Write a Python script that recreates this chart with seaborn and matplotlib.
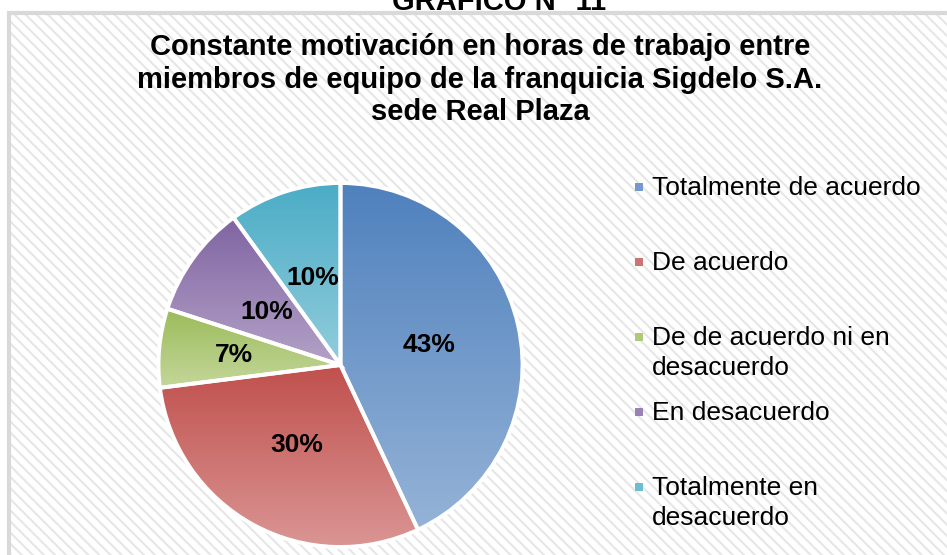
import numpy as np
import matplotlib
matplotlib.use("Agg")
import matplotlib.pyplot as plt
from matplotlib.patches import Rectangle
from matplotlib.colors import LinearSegmentedColormap
import seaborn as sns

# datos del grafico
categorias = ['Totalmente de acuerdo', 'De acuerdo', 'De de acuerdo ni en\ndesacuerdo',
              'En desacuerdo', 'Totalmente en\ndesacuerdo']
porcentajes = [43, 30, 7, 10, 10]
etiquetas = ['43%', '30%', '7%', '10%', '10%']

# colores (arriba -> abajo) del degradado de cada sector
color_arriba = ['#4F81BD', '#C0504D', '#9BBB59', '#8064A2', '#4BACC6']
color_abajo = ['#95B3D7', '#DA9694', '#C4D79B', '#B3A2C7', '#92CDDC']

sns.set_theme(style='white')
plt.rcParams['font.family'] = ['Liberation Sans', 'DejaVu Sans']
plt.rcParams['text.color'] = 'black'
plt.rcParams['hatch.linewidth'] = 1.5

W, H = 947, 555
fig = plt.figure(figsize=(W / 100, H / 100), dpi=100)
fig.patch.set_facecolor('white')

# fondo rayado con marco gris
fondo = Rectangle((9 / W, -0.02), 1.0, (H - 13) / H + 0.02, transform=fig.transFigure,
                  facecolor='white', edgecolor='#E6E6E6', linewidth=0, hatch='\\\\\\', zorder=-3)
fig.patches.append(fondo)
marco = Rectangle((9 / W, -0.02), 1.0, (H - 13) / H + 0.02, transform=fig.transFigure,
                  facecolor='none', edgecolor='#D9D9D9', linewidth=3, zorder=-2)
fig.patches.append(marco)

fig.text(499 / W, 1 - 10 / H, 'GRAFICO N° 11', ha='center', va='baseline',
         fontsize=21, weight='bold')
fig.text(480 / W, 1 - 120 / H,
         'Constante motivación en horas de trabajo entre\n'
         'miembros de equipo de la franquicia Sigdelo S.A.\nsede Real Plaza',
         ha='center', va='baseline', fontsize=21, weight='bold', linespacing=1.2)

# pastel
cx, cy, r = 340.5, 365, 182
ax = fig.add_axes([(cx - 1.02 * r) / W, (H - cy - 1.02 * r) / H, 2.04 * r / W, 2.04 * r / H])
ax.patch.set_visible(False)
wedges, textos, autotextos = ax.pie(
    porcentajes, startangle=90, counterclock=False, labels=None,
    autopct='%1.0f%%', pctdistance=0.5,
    wedgeprops=dict(edgecolor='white', linewidth=2.8),
    textprops=dict(fontsize=19, weight='bold', color='black'))

for i, w in enumerate(wedges):
    verts = w.get_path().vertices
    x0, y0 = verts.min(axis=0)
    x1, y1 = verts.max(axis=0)
    cmap = LinearSegmentedColormap.from_list('g', [color_abajo[i], color_arriba[i]])
    grad = np.linspace(0, 1, 256).reshape(-1, 1)
    im = ax.imshow(grad, cmap=cmap, extent=[x0, x1, y0, y1], origin='lower',
                   aspect='auto', zorder=1)
    im.set_clip_path(w)
    w.set_facecolor('none')
    w.set_zorder(2)
    autotextos[i].set_text(etiquetas[i])
    autotextos[i].set_zorder(3)

# la etiqueta pequena (7%) va un poco mas afuera
x, y = autotextos[2].get_position()
autotextos[2].set_position((x * 0.59 / 0.5, y * 0.59 / 0.5))
ax.set_xlim(-1.02, 1.02)
ax.set_ylim(-1.02, 1.02)
ax.set_aspect('auto')
ax.axis('off')

# leyenda manual
base_y = [195, 270, 345, 420, 495]
for i, cat in enumerate(categorias):
    col = LinearSegmentedColormap.from_list('g', [color_abajo[i], color_arriba[i]])(0.5)
    fig.patches.append(Rectangle((635 / W, 1 - (base_y[i] - 4) / H), 8 / W, 8 / H,
                                 transform=fig.transFigure, facecolor=col,
                                 edgecolor='none', zorder=2))
    for j, linea in enumerate(cat.split('\n')):
        fig.text(652 / W, 1 - (base_y[i] + 30 * j) / H, linea, ha='left', va='baseline',
                 fontsize=19)

fig.savefig('out.png', dpi=100)
